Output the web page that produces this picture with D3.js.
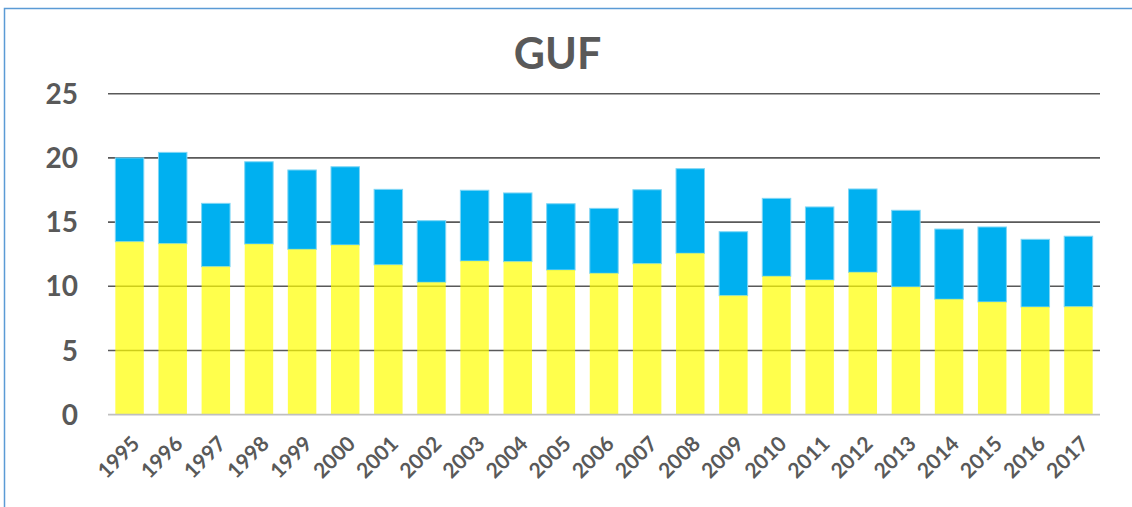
<!DOCTYPE html>
<html>
<head>
<meta charset="utf-8">
<script src="https://cdn.jsdelivr.net/npm/d3@7"></script>
<style>
  body { margin: 0; background: #fff; }
  svg { display: block; font-family: Lato, "Open Sans", sans-serif; }
</style>
</head>
<body>
<div id="vis"></div>
<script>
// chart data
const YEARS = ["1995","1996","1997","1998","1999","2000","2001","2002","2003","2004","2005","2006",
               "2007","2008","2009","2010","2011","2012","2013","2014","2015","2016","2017"];
// lower (yellow) part of each bar
const LOWER = [13.47, 13.32, 11.53, 13.29, 12.88, 13.22, 11.67, 10.31, 11.97, 11.92, 11.27, 11.01,
               11.76, 12.57, 9.27, 10.78, 10.49, 11.09, 9.95, 8.99, 8.78, 8.39, 8.41];
// upper (blue) part stacked on top
const UPPER = [6.53, 7.11, 4.93, 6.41, 6.18, 6.09, 5.88, 4.80, 5.51, 5.35, 5.16, 5.06,
               5.76, 6.59, 4.98, 6.07, 5.69, 6.49, 5.97, 5.47, 5.84, 5.27, 5.49];
const Y_TICKS = [0, 5, 10, 15, 20, 25];
const TITLE = "GUF";

const FRAME_WIDTH = 1132;
const FRAME_HEIGHT = 507;
const MARGINS = {left: 108, right: 32, top: 93.7, bottom: 92.3};
const VIS_WIDTH = FRAME_WIDTH - MARGINS.left - MARGINS.right;
const VIS_HEIGHT = FRAME_HEIGHT - MARGINS.top - MARGINS.bottom;

const X_SCALE = d3.scaleBand()
    .domain(YEARS)
    .range([0, VIS_WIDTH])
    .paddingInner(0.34)
    .paddingOuter(0.17);
const Y_SCALE = d3.scaleLinear()
    .domain([0, 25])
    .range([VIS_HEIGHT, 0]);

const svg = d3.select("#vis").append("svg")
    .attr("width", FRAME_WIDTH)
    .attr("height", FRAME_HEIGHT);

// outer chart border (cut off on right and bottom)
svg.append("rect")
    .attr("x", 4.5).attr("y", 8.5)
    .attr("width", FRAME_WIDTH + 20).attr("height", FRAME_HEIGHT + 20)
    .attr("fill", "none")
    .attr("stroke", "#5B9BD5")
    .attr("stroke-width", 1.5);

svg.append("text")
    .attr("x", 557.5).attr("y", 69)
    .attr("text-anchor", "middle")
    .attr("font-size", "43px")
    .attr("font-weight", "bold")
    .attr("fill", "#595959")
    .text(TITLE);

const plot = svg.append("g")
    .attr("transform", "translate(" + MARGINS.left + "," + MARGINS.top + ")");

// gridlines
plot.selectAll(".grid")
    .data(Y_TICKS.filter(d => d > 0))
    .enter().append("line")
    .attr("x1", 0).attr("x2", VIS_WIDTH)
    .attr("y1", d => Y_SCALE(d)).attr("y2", d => Y_SCALE(d))
    .attr("stroke", "#595959")
    .attr("stroke-width", 1.6);

// y axis labels
plot.selectAll(".ylab")
    .data(Y_TICKS)
    .enter().append("text")
    .attr("x", -30).attr("y", d => Y_SCALE(d))
    .attr("dy", "0.36em")
    .attr("text-anchor", "end")
    .attr("font-size", "28px")
    .attr("font-weight", "bold")
    .attr("fill", "#595959")
    .text(d => d);

// blue upper segments
plot.selectAll(".upper")
    .data(YEARS)
    .enter().append("rect")
    .attr("x", d => X_SCALE(d))
    .attr("width", X_SCALE.bandwidth())
    .attr("y", (d, i) => Y_SCALE(LOWER[i] + UPPER[i]))
    .attr("height", (d, i) => Y_SCALE(LOWER[i]) - Y_SCALE(LOWER[i] + UPPER[i]))
    .attr("fill", "#00B0F0")
    .attr("stroke", "#7FD6F5")
    .attr("stroke-width", 1);

// yellow lower segments, semi transparent so gridlines show through
plot.selectAll(".lower")
    .data(YEARS)
    .enter().append("rect")
    .attr("x", d => X_SCALE(d))
    .attr("width", X_SCALE.bandwidth())
    .attr("y", (d, i) => Y_SCALE(LOWER[i]))
    .attr("height", (d, i) => Y_SCALE(0) - Y_SCALE(LOWER[i]))
    .attr("fill", "#FFFF00")
    .attr("fill-opacity", 0.7);

// baseline
plot.append("line")
    .attr("x1", 0).attr("x2", VIS_WIDTH)
    .attr("y1", Y_SCALE(0)).attr("y2", Y_SCALE(0))
    .attr("stroke", "#BFBFBF")
    .attr("stroke-width", 1.8);

// x axis labels, rotated
plot.selectAll(".xlab")
    .data(YEARS)
    .enter().append("text")
    .attr("transform", d => "translate(" + (X_SCALE(d) + X_SCALE.bandwidth() / 2 + 1) + "," + (VIS_HEIGHT + 20) + ") rotate(-45)")
    .attr("text-anchor", "end")
    .attr("dy", "0.7em")
    .attr("font-size", "21px")
    .attr("font-weight", "bold")
    .attr("fill", "#595959")
    .text(d => d);
</script>
</body>
</html>
